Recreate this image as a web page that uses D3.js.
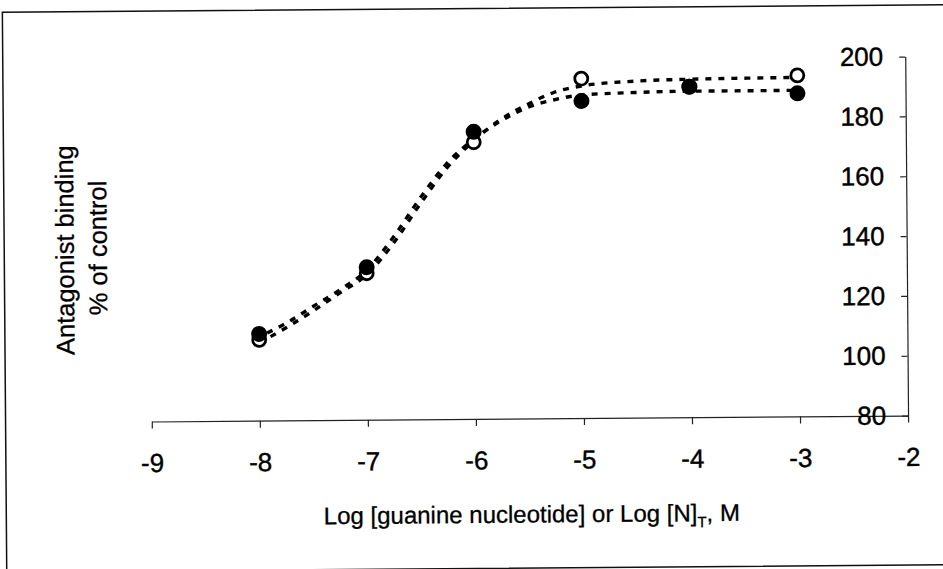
<!DOCTYPE html>
<html>
<head>
<meta charset="utf-8">
<script src="https://cdn.jsdelivr.net/npm/d3@7"></script>
<style>
  body { margin: 0; background: #fff; }
  svg { display: block; font-family: "Liberation Sans", Arial, sans-serif; }
</style>
</head>
<body>
<div id="chart"></div>
<script>
    // measured points (log concentration, % of control)
    var logConc = [-8, -7, -6, -5, -4, -3];
    var openVals = [107, 129, 172.5, 193.5, 190.5, 194];
    var filledVals = [109, 131, 176, 186, 190.5, 188];

    // dashed fitted curves
    var fitX = [-8, -7.75, -7.5, -7.25, -7, -6.75, -6.5, -6.25, -6, -5.75, -5.5, -5.25, -5, -4.5, -4, -3.5, -3];
    var fitOpen = [106, 111, 116.5, 122.5, 128.5, 139, 152, 164, 173, 180, 185, 189, 191, 192.5, 193, 193.2, 193.3];
    var fitFilled = [108, 112.5, 118, 123.5, 130, 141, 154, 165.5, 173.5, 179.5, 184, 186.5, 188, 188.7, 189, 189, 189];

    var xTicks = [-9, -8, -7, -6, -5, -4, -3, -2];
    var yTicks = [80, 100, 120, 140, 160, 180, 200];

    var width = 943, height = 569;

    var svg = d3.select("#chart")
        .append("svg")
        .attr("width", width)
        .attr("height", height);

    // the whole scan sits slightly tilted
    var g = svg.append("g")
        .attr("transform", "rotate(-0.45, 471, 284)");

    // outer frame
    g.append("rect")
        .attr("x", 4.5)
        .attr("y", 8.5)
        .attr("width", 960)
        .attr("height", 560)
        .attr("fill", "none")
        .attr("stroke", "#111")
        .attr("stroke-width", 1.5);

    var x = d3.scaleLinear().domain([-9, -2]).range([150.7, 907]);
    var y = d3.scaleLinear().domain([80, 200]).range([419, 60]);

    var plain = function (d) { return String(d); };

    // x axis
    var xAxis = g.append("g")
        .attr("transform", "translate(0," + y(80) + ")")
        .call(d3.axisBottom(x).tickValues(xTicks).tickFormat(plain)
            .tickSize(7).tickSizeOuter(0).tickPadding(25));
    xAxis.selectAll("text")
        .attr("font-size", "26px")
        .attr("fill", "#000")
        .attr("stroke", "#000")
        .attr("stroke-width", 0.4)
        .attr("font-family", "Liberation Sans, Arial, sans-serif");

    // y axis on the right end
    var yAxis = g.append("g")
        .attr("transform", "translate(" + x(-2) + ",0)")
        .call(d3.axisLeft(y).tickValues(yTicks).tickFormat(plain)
            .tickSize(6).tickSizeOuter(0).tickPadding(16));
    yAxis.selectAll("text")
        .attr("font-size", "26px")
        .attr("fill", "#000")
        .attr("stroke", "#000")
        .attr("stroke-width", 0.4)
        .attr("font-family", "Liberation Sans, Arial, sans-serif");

    g.selectAll(".domain, .tick line")
        .attr("stroke", "#222")
        .attr("stroke-width", 1.2);

    // fitted dashed curves
    var line = d3.line()
        .x(function (d) { return x(d[0]); })
        .y(function (d) { return y(d[1]); })
        .curve(d3.curveMonotoneX);

    [fitOpen, fitFilled].forEach(function (vals, k) {
        g.append("path")
            .datum(fitX.map(function (v, i) { return [v, vals[i]]; }))
            .attr("d", line)
            .attr("fill", "none")
            .attr("stroke", "#000")
            .attr("stroke-width", 3.4)
            .style("stroke-dasharray", ("6, 7"))
            .style("stroke-dashoffset", k * 4);
    });

    // open circles
    g.selectAll("circle.open")
        .data(logConc)
        .enter()
        .append("circle")
        .attr("class", "open")
        .attr("cx", function (d) { return x(d); })
        .attr("cy", function (d, i) { return y(openVals[i]); })
        .attr("r", 6.5)
        .attr("fill", "#fff")
        .attr("stroke", "#000")
        .attr("stroke-width", 2.8);

    // filled circles
    g.selectAll("circle.filled")
        .data(logConc)
        .enter()
        .append("circle")
        .attr("class", "filled")
        .attr("cx", function (d) { return x(d); })
        .attr("cy", function (d, i) { return y(filledVals[i]); })
        .attr("r", 8)
        .attr("fill", "#000");

    // axis titles
    g.append("text")
        .text("Antagonist binding")
        .attr("text-anchor", "middle")
        .attr("transform", "translate(74,247) rotate(-90)")
        .attr("font-size", "25.5px")
        .attr("stroke", "#000")
        .attr("stroke-width", 0.3)
        .attr("fill", "#000");

    g.append("text")
        .text("% of control")
        .attr("text-anchor", "middle")
        .attr("transform", "translate(107,245) rotate(-90)")
        .attr("font-size", "25.5px")
        .attr("stroke", "#000")
        .attr("stroke-width", 0.3)
        .attr("fill", "#000");

    var xTitle = g.append("text")
        .attr("text-anchor", "middle")
        .attr("x", 530)
        .attr("y", 523)
        .attr("font-size", "24px")
        .attr("stroke", "#000")
        .attr("stroke-width", 0.3)
        .attr("fill", "#000");
    xTitle.append("tspan").text("Log [guanine nucleotide] or Log [N]");
    xTitle.append("tspan").text("T").attr("font-size", "15px").attr("dy", 6);
    xTitle.append("tspan").text(", M").attr("dy", -6);
</script>
</body>
</html>
